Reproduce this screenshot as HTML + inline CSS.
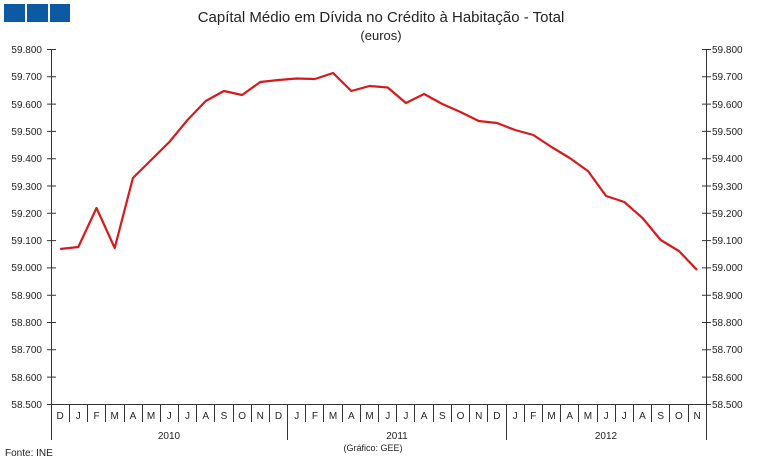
<!DOCTYPE html>
<html><head><meta charset="utf-8"><style>
body{margin:0;background:#fff;}
svg{display:block;font-family:"Liberation Sans",sans-serif;}
</style></head><body>
<svg width="757" height="463" viewBox="0 0 757 463" xmlns="http://www.w3.org/2000/svg">
<rect x="4" y="4" width="21" height="18" fill="#0b5aa2"/>
<rect x="27" y="4" width="21" height="18" fill="#0b5aa2"/>
<rect x="50" y="4" width="20" height="18" fill="#0b5aa2"/>
<text x="381" y="22" font-size="15" text-anchor="middle" fill="#222">Capítal Médio em Dívida no Crédito à Habitação - Total</text>
<text x="381" y="40" font-size="13" text-anchor="middle" fill="#222">(euros)</text>
<g stroke="#333" stroke-width="1" fill="none">
<line x1="51.5" y1="49" x2="51.5" y2="440"/>
<line x1="706.5" y1="49" x2="706.5" y2="440"/>
<line x1="47" y1="404.5" x2="711" y2="404.5"/>
<path d="M47 49.5h9M47 76.8h9M47 104.1h9M47 131.4h9M47 158.7h9M47 186h9M47 213.3h9M47 240.6h9M47 267.9h9M47 295.2h9M47 322.5h9M47 349.8h9M47 377.1h9"/>
<path d="M702 49.5h9M702 76.8h9M702 104.1h9M702 131.4h9M702 158.7h9M702 186h9M702 213.3h9M702 240.6h9M702 267.9h9M702 295.2h9M702 322.5h9M702 349.8h9M702 377.1h9"/>
<path d="M69.5 404v18M87.5 404v18M105.5 404v18M124.5 404v18M142.5 404v18M160.5 404v18M178.5 404v18M196.5 404v18M214.5 404v18M233.5 404v18M251.5 404v18M269.5 404v18M305.5 404v18M323.5 404v18M342.5 404v18M360.5 404v18M378.5 404v18M396.5 404v18M414.5 404v18M433.5 404v18M451.5 404v18M469.5 404v18M487.5 404v18M524.5 404v18M542.5 404v18M560.5 404v18M578.5 404v18M597.5 404v18M615.5 404v18M633.5 404v18M651.5 404v18M669.5 404v18M688.5 404v18"/>
<path d="M287.5 404v36M506.5 404v36"/>
</g>
<g font-size="10" fill="#222" text-anchor="end">
<text x="42" y="53">59.800</text><text x="42" y="80">59.700</text><text x="42" y="108">59.600</text><text x="42" y="135">59.500</text><text x="42" y="162">59.400</text><text x="42" y="190">59.300</text><text x="42" y="217">59.200</text><text x="42" y="244">59.100</text><text x="42" y="271">59.000</text><text x="42" y="299">58.900</text><text x="42" y="326">58.800</text><text x="42" y="353">58.700</text><text x="42" y="381">58.600</text><text x="42" y="408">58.500</text>
</g>
<g font-size="10" fill="#222">
<text x="712" y="53">59.800</text><text x="712" y="80">59.700</text><text x="712" y="108">59.600</text><text x="712" y="135">59.500</text><text x="712" y="162">59.400</text><text x="712" y="190">59.300</text><text x="712" y="217">59.200</text><text x="712" y="244">59.100</text><text x="712" y="271">59.000</text><text x="712" y="299">58.900</text><text x="712" y="326">58.800</text><text x="712" y="353">58.700</text><text x="712" y="381">58.600</text><text x="712" y="408">58.500</text>
</g>
<g font-size="10" fill="#222" text-anchor="middle">
<text x="60.1" y="419">D</text><text x="78.3" y="419">J</text><text x="96.5" y="419">F</text><text x="114.7" y="419">M</text><text x="132.9" y="419">A</text><text x="151.1" y="419">M</text><text x="169.3" y="419">J</text><text x="187.5" y="419">J</text><text x="205.7" y="419">A</text><text x="223.9" y="419">S</text><text x="242.1" y="419">O</text><text x="260.3" y="419">N</text><text x="278.5" y="419">D</text><text x="296.7" y="419">J</text><text x="314.9" y="419">F</text><text x="333.1" y="419">M</text><text x="351.3" y="419">A</text><text x="369.5" y="419">M</text><text x="387.7" y="419">J</text><text x="405.9" y="419">J</text><text x="424.1" y="419">A</text><text x="442.3" y="419">S</text><text x="460.5" y="419">O</text><text x="478.7" y="419">N</text><text x="496.9" y="419">D</text><text x="515.1" y="419">J</text><text x="533.3" y="419">F</text><text x="551.5" y="419">M</text><text x="569.7" y="419">A</text><text x="587.9" y="419">M</text><text x="606.1" y="419">J</text><text x="624.3" y="419">J</text><text x="642.5" y="419">A</text><text x="660.7" y="419">S</text><text x="678.9" y="419">O</text><text x="697.1" y="419">N</text>
<text x="169" y="439">2010</text><text x="397" y="439">2011</text><text x="606" y="439">2012</text>
<text x="373" y="451" font-size="9">(Gráfico: GEE)</text>
</g>
<text x="5" y="456" font-size="10" fill="#222">Fonte: INE</text>
<polyline fill="none" stroke="#d7191c" stroke-width="2.2" stroke-linejoin="round" points="60.1,249 78.3,247 96.5,208 114.7,248 132.9,178 151.1,160 169.3,142 187.5,120 205.7,101 223.9,91 242.1,95 260.3,82 278.5,80 296.7,78.5 314.9,79 333.1,73 351.3,91 369.5,86 387.7,87.5 405.9,103 424.1,94 442.3,104 460.5,112 478.7,121 496.9,123 515.1,130 533.3,135 551.5,147 569.7,158 587.9,171 606.1,196 624.3,202 642.5,218 660.7,240 678.9,251 697.1,270"/>
</svg>
</body></html>
